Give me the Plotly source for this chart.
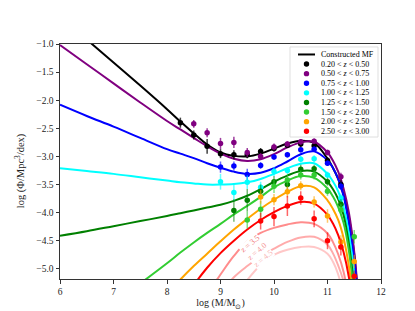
import plotly.graph_objects as go

# ---------------- data ----------------
bin_labels = ["0.20 &lt; <i>z</i> &lt; 0.50", "0.50 &lt; <i>z</i> &lt; 0.75", "0.75 &lt; <i>z</i> &lt; 1.00",
              "1.00 &lt; <i>z</i> &lt; 1.25", "1.25 &lt; <i>z</i> &lt; 1.50", "1.50 &lt; <i>z</i> &lt; 2.00",
              "2.00 &lt; <i>z</i> &lt; 2.50", "2.50 &lt; <i>z</i> &lt; 3.00"]
bin_colors = ["#000000", "#800080", "#0000ff", "#00ffff", "#008000", "#32cd32", "#ffa500", "#ff0000"]
bin_err_colors = ["rgba(0,0,0,0.75)", "rgba(128,0,128,0.75)", "rgba(0,0,255,0.6)", "rgba(0,255,255,0.6)",
                  "rgba(0,128,0,0.55)", "rgba(50,205,50,0.6)", "rgba(255,165,0,0.6)", "rgba(255,0,0,0.6)"]

# model curves (log M grid and log Phi per bin)
curve_mass = [6.0, 6.5, 7.0, 7.5, 8.0, 8.25, 8.5, 8.75, 9.0, 9.25, 9.5, 9.75, 10.0,
              10.25, 10.5, 10.75, 11.0, 11.1, 11.2, 11.3, 11.4, 11.5, 11.6]
curve_z020 = [-0.50, -0.92, -1.33, -1.74, -2.16, -2.38, -2.59, -2.79, -2.93, -2.99, -3.00, -2.95, -2.86,
              -2.77, -2.72, -2.76, -3.04, -3.20, -3.40, -3.68, -4.08, -4.75, -5.90]
curve_z050 = [-1.02, -1.36, -1.70, -2.04, -2.37, -2.52, -2.67, -2.82, -2.95, -3.04, -3.08, -3.05, -2.96,
              -2.84, -2.75, -2.74, -2.93, -3.07, -3.27, -3.57, -4.00, -4.70, -5.80]
curve_z075 = [-2.08, -2.28, -2.47, -2.67, -2.87, -2.95, -3.03, -3.12, -3.20, -3.27, -3.31, -3.29, -3.21,
              -3.09, -2.96, -2.91, -3.07, -3.20, -3.40, -3.70, -4.20, -4.85, -5.90]
curve_z100 = [-3.21, -3.26, -3.31, -3.37, -3.43, -3.46, -3.48, -3.50, -3.50, -3.49, -3.46, -3.40, -3.31,
              -3.21, -3.13, -3.12, -3.31, -3.44, -3.62, -3.90, -4.38, -5.10, -6.20]
curve_z125 = [-4.41, -4.33, -4.24, -4.15, -4.06, -4.01, -3.96, -3.91, -3.86, -3.79, -3.70, -3.58, -3.45,
              -3.34, -3.26, -3.27, -3.45, -3.58, -3.76, -4.04, -4.55, -5.35, -6.50]
curve_z150 = [None, None, None, -5.26, -4.90, -4.71, -4.53, -4.36, -4.20, -4.03, -3.88, -3.72, -3.55,
              -3.43, -3.35, -3.38, -3.57, -3.71, -3.90, -4.18, -4.68, -5.50, None]
curve_z200 = [None, None, None, None, -5.45, -5.19, -4.95, -4.73, -4.51, -4.30, -4.11, -3.93, -3.77,
              -3.63, -3.53, -3.55, -3.78, -3.93, -4.13, -4.45, -4.95, -5.70, None]
curve_z250 = [None, None, None, None, None, -5.65, -5.29, -4.98, -4.72, -4.50, -4.30, -4.13, -3.99,
              -3.88, -3.81, -3.84, -4.04, -4.19, -4.40, -4.70, -5.15, -5.90, None]
curve_z350 = [None, None, None, None, None, None, -5.85, -5.45, -5.10, -4.77, -4.51, -4.36, -4.27,
              -4.21, -4.17, -4.20, -4.37, -4.52, -4.74, -5.05, -5.55, None, None]
curve_z400 = [None, None, None, None, None, None, None, -5.90, -5.45, -5.15, -4.95, -4.78, -4.64,
              -4.52, -4.44, -4.43, -4.57, -4.72, -4.94, -5.22, -5.65, None, None]
curve_z450 = [None, None, None, None, None, None, None, None, -5.95, -5.55, -5.20, -4.93, -4.75,
              -4.66, -4.61, -4.61, -4.73, -4.87, -5.10, -5.45, None, None, None]
bin_curves = [curve_z020, curve_z050, curve_z075, curve_z100, curve_z125, curve_z150, curve_z200, curve_z250]
faint_curves = [curve_z350, curve_z400, curve_z450]
faint_colors = ["rgba(255,0,0,0.45)", "rgba(255,0,0,0.33)", "rgba(255,0,0,0.22)"]
faint_labels = ["z = 3.5", "z = 4.0", "z = 4.5"]
faint_label_x = [9.56, 9.68, 9.80]
faint_label_y = [-4.55, -4.69, -4.81]
faint_label_colors = ["rgba(240,120,120,1)", "rgba(244,150,150,1)", "rgba(248,180,180,1)"]

# measured points (log M, log Phi, error) per bin
pts_x_z020 = [8.25, 8.5, 8.75, 9.0, 9.25, 9.5, 9.75, 10.0, 10.25, 10.5, 10.75, 11.0, 11.25]
pts_y_z020 = [-2.40, -2.62, -2.82, -2.95, -2.97, -2.97, -2.91, -2.86, -2.80, -2.78, -2.81, -3.07, -3.50]
pts_e_z020 = [0.09, 0.08, 0.13, 0.08, 0.08, 0.06, 0.06, 0.05, 0.05, 0.05, 0.05, 0.06, 0.08]
pts_x_z050 = [8.5, 8.75, 9.0, 9.25, 9.5, 9.75, 10.0, 10.25, 10.5, 10.75, 11.0, 11.25]
pts_y_z050 = [-2.42, -2.58, -2.77, -2.75, -2.93, -3.00, -2.83, -2.78, -2.74, -2.73, -2.93, -3.36]
pts_e_z050 = [0.07, 0.08, 0.10, 0.10, 0.08, 0.06, 0.06, 0.05, 0.05, 0.05, 0.05, 0.07]
pts_x_z075 = [9.0, 9.25, 9.5, 9.75, 10.0, 10.25, 10.5, 10.75, 11.0, 11.25]
pts_y_z075 = [-3.19, -3.17, -3.32, -3.16, -3.01, -2.97, -2.88, -2.87, -3.12, -3.53]
pts_e_z075 = [0.10, 0.08, 0.10, 0.06, 0.05, 0.05, 0.05, 0.05, 0.05, 0.07]
pts_x_z100 = [9.0, 9.25, 9.5, 9.75, 10.0, 10.25, 10.5, 10.75, 11.0, 11.25]
pts_y_z100 = [-3.45, -3.64, -3.46, -3.55, -3.27, -3.25, -3.05, -3.04, -3.33, -3.74]
pts_e_z100 = [0.14, 0.15, 0.12, 0.10, 0.08, 0.06, 0.06, 0.06, 0.06, 0.08]
pts_x_z125 = [9.25, 9.5, 9.75, 10.0, 10.25, 10.5, 10.75, 11.0, 11.25]
pts_y_z125 = [-3.96, -3.78, -3.62, -3.45, -3.50, -3.23, -3.22, -3.45, -3.85]
pts_e_z125 = [0.20, 0.20, 0.12, 0.10, 0.10, 0.08, 0.07, 0.07, 0.09]
pts_x_z150 = [9.5, 9.75, 10.0, 10.25, 10.5, 10.75, 11.0, 11.25, 11.5]
pts_y_z150 = [-4.13, -3.94, -3.53, -3.42, -3.33, -3.33, -3.62, -3.95, -4.43]
pts_e_z150 = [0.15, 0.15, 0.12, 0.10, 0.08, 0.08, 0.08, 0.10, 0.12]
pts_x_z200 = [9.75, 10.0, 10.25, 10.5, 10.75, 11.0, 11.25, 11.5]
pts_y_z200 = [-3.72, -3.77, -3.63, -3.52, -3.81, -4.06, -4.52, -4.87]
pts_e_z200 = [0.12, 0.10, 0.10, 0.08, 0.10, 0.12, 0.12, 0.12]
pts_x_z250 = [9.75, 10.0, 10.25, 10.5, 10.75, 11.0, 11.25, 11.5]
pts_y_z250 = [-4.15, -4.07, -3.88, -3.74, -4.11, -4.50, -4.61, -5.13]
pts_e_z250 = [0.15, 0.17, 0.18, 0.12, 0.15, 0.15, 0.15, 0.10]
pts_x = [pts_x_z020, pts_x_z050, pts_x_z075, pts_x_z100, pts_x_z125, pts_x_z150, pts_x_z200, pts_x_z250]
pts_y = [pts_y_z020, pts_y_z050, pts_y_z075, pts_y_z100, pts_y_z125, pts_y_z150, pts_y_z200, pts_y_z250]
pts_e = [pts_e_z020, pts_e_z050, pts_e_z075, pts_e_z100, pts_e_z125, pts_e_z150, pts_e_z200, pts_e_z250]

x_ticks = [6, 7, 8, 9, 10, 11, 12]
y_ticks = [-1.0, -1.5, -2.0, -2.5, -3.0, -3.5, -4.0, -4.5, -5.0]
legend_title = "Constructed MF"

FONT = "Liberation Serif"

# ---------------- figure ----------------
fig = go.Figure()

for ys, col in zip(faint_curves, faint_colors):
    fig.add_trace(go.Scatter(x=curve_mass, y=ys, mode="lines", line=dict(color=col, width=2, shape="spline"),
                             showlegend=False, hoverinfo="skip"))

for ys, col in zip(bin_curves, bin_colors):
    fig.add_trace(go.Scatter(x=curve_mass, y=ys, mode="lines", line=dict(color=col, width=2, shape="spline"),
                             showlegend=False, hoverinfo="skip"))

for xs, ys, es, col, ecol in zip(pts_x, pts_y, pts_e, bin_colors, bin_err_colors):
    fig.add_trace(go.Scatter(x=xs, y=ys, mode="markers", marker=dict(color=col, size=5.5),
                             error_y=dict(type="data", array=es, color=ecol, thickness=1.5, width=0),
                             showlegend=False))

annotations = []
for txt, lx, ly, lc in zip(faint_labels, faint_label_x, faint_label_y, faint_label_colors):
    annotations.append(dict(x=lx, y=ly, xref="x", yref="y", text=txt, showarrow=False, textangle=-40,
                            font=dict(family=FONT, size=8, color=lc), bgcolor="white", borderpad=0))

# manual legend (paper coordinates)
PL, PR, PT, PB = 52, 373, 36, 276
def px2paper_x(px):
    return (px - PL) / (PR - PL)
def px2paper_y(py):
    return (PB - py) / (PB - PT)

shapes = [dict(type="rect", xref="paper", yref="paper", x0=px2paper_x(282), x1=px2paper_x(370),
               y0=px2paper_y(131), y1=px2paper_y(39), line=dict(color="rgba(220,220,220,0.9)", width=1),
               fillcolor="rgba(255,255,255,0.85)", layer="above")]
row0, drow = 46.7, 9.8
shapes.append(dict(type="line", xref="paper", yref="paper", x0=px2paper_x(290), x1=px2paper_x(307),
                   y0=px2paper_y(row0), y1=px2paper_y(row0), line=dict(color="black", width=2), layer="above"))
annotations.append(dict(x=px2paper_x(311), y=px2paper_y(row0), xref="paper", yref="paper", text=legend_title,
                        showarrow=False, xanchor="left", yanchor="middle", font=dict(family=FONT, size=8, color="black")))
for i, (lab, col) in enumerate(zip(bin_labels, bin_colors)):
    ry = px2paper_y(row0 + drow * (i + 1))
    shapes.append(dict(type="circle", xref="paper", yref="paper", xsizemode="pixel", ysizemode="pixel",
                       xanchor=px2paper_x(298.5), yanchor=ry, x0=-2.7, x1=2.7, y0=-2.7, y1=2.7,
                       fillcolor=col, line=dict(width=0), layer="above"))
    annotations.append(dict(x=px2paper_x(311), y=ry, xref="paper", yref="paper", text=lab, showarrow=False,
                            xanchor="left", yanchor="middle", font=dict(family=FONT, size=8, color="black")))

# y-axis title
annotations.append(dict(x=px2paper_x(12), y=px2paper_y(166), xref="paper", yref="paper",
                        text="log (Φ/Mpc<sup>3</sup>/dex)", showarrow=False, textangle=-90,
                        xanchor="center", yanchor="middle", font=dict(family=FONT, size=10.5, color="#222222")))

axis_common = dict(showgrid=False, zeroline=False, showline=True, mirror=True, linecolor="#333333", linewidth=1,
                   ticks="outside", ticklen=3.5, tickwidth=1, tickcolor="#333333",
                   tickfont=dict(family=FONT, size=9.5, color="#222222"))

fig.update_layout(
    width=415, height=311,
    margin=dict(l=PL, r=415 - PR, t=PT, b=311 - PB),
    paper_bgcolor="white", plot_bgcolor="white",
    xaxis=dict(range=[6, 12], tickvals=x_ticks, ticktext=[str(v) for v in x_ticks],
               title=dict(text="log (M/M<sub>⊙</sub>)", font=dict(family=FONT, size=10, color="#222222"), standoff=3),
               **axis_common),
    yaxis=dict(range=[-5.18, -1.0], tickvals=y_ticks, tickformat=".1f", **axis_common),
    annotations=annotations, shapes=shapes, showlegend=False,
)

fig.write_html("out.html")
